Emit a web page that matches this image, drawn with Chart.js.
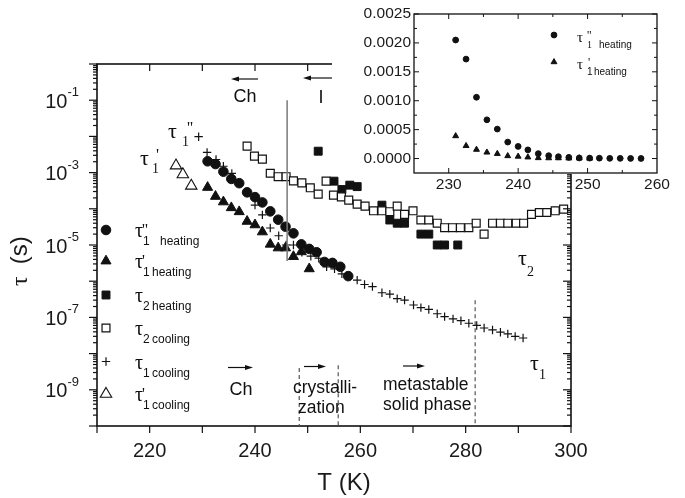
<!DOCTYPE html>
<html>
<head>
<meta charset="utf-8">
<script src="https://cdn.jsdelivr.net/npm/chart.js@4.4.1/dist/chart.umd.min.js"></script>
<style>
  html, body { margin: 0; padding: 0; background: #fff; }
  #wrap { position: relative; width: 685px; height: 498px; }
  #main { position: absolute; left: 0; top: 0; }
  #inset { position: absolute; left: 332px; top: 0; }
</style>
</head>
<body>
<div id="wrap">
  <canvas id="main" width="685" height="498"></canvas>
  <canvas id="inset" width="353" height="210"></canvas>
</div>
<script>
// relaxation times tau (s) against temperature T (K)

// tau1'' heating (filled circles)
const t1ppHeatT = [231.0, 232.5, 234.0, 235.5, 237.0, 238.5, 240.0, 241.4, 242.9, 244.4, 245.8, 247.3, 248.8, 250.3, 251.7, 253.2, 254.7, 256.2, 257.7];
const t1ppHeat  = [2.05e-3, 1.72e-3, 1.06e-3, 6.7e-4, 5.1e-4, 2.85e-4, 2.1e-4, 1.5e-4, 8.5e-5, 5.0e-5, 3.2e-5, 2.1e-5, 1.04e-5, 7.8e-6, 6.3e-6, 3.4e-6, 3.2e-6, 2.5e-6, 1.38e-6];

// tau1' heating (filled triangles)
const t1pHeatT = [231.0, 232.5, 234.0, 235.5, 237.0, 238.5, 240.0, 241.4, 242.9, 244.4, 245.8, 247.3, 248.8, 250.3];
const t1pHeat  = [3.9e-4, 2.2e-4, 1.55e-4, 1.07e-4, 8.3e-5, 4.5e-5, 3.6e-5, 2.3e-5, 1.05e-5, 8.3e-6, 8.3e-6, 4.8e-6, 6.5e-6, 2.2e-6];

// tau2 heating (filled squares)
const t2HeatT = [252.0, 255.0, 256.5, 258.0, 259.4, 264.1, 265.6, 267.0, 268.4, 271.5, 273.0, 274.6, 276.0, 278.5];
const t2Heat  = [3.9e-3, 5.8e-4, 3.4e-4, 4.5e-4, 4.1e-4, 1.26e-4, 4.9e-5, 4.0e-5, 4.0e-5, 2.0e-5, 2.0e-5, 1.0e-5, 1.0e-5, 1.0e-5];

// tau2 cooling (open squares)
const t2CoolT = [238.5, 239.9, 241.4, 242.9, 244.4, 245.9, 247.3, 248.9, 250.5, 252.0, 253.5, 254.9, 256.4, 257.8, 259.4, 260.9, 262.5, 264.1, 265.6, 267.0,
                 268.4, 270.0, 271.5, 273.0, 274.6, 276.0, 277.5, 279.0, 280.6, 282.0, 283.5, 285.1, 286.6, 288.0, 289.6, 291.0, 292.5, 294.0, 295.4, 297.0, 298.6];
const t2Cool  = [5.4e-3, 2.86e-3, 2.36e-3, 9.6e-4, 7.7e-4, 7.7e-4, 5.9e-4, 5.2e-4, 3.8e-4, 2.55e-4, 5.8e-4, 2.39e-4, 2.14e-4, 1.74e-4, 1.35e-4, 1.19e-4, 8.8e-5, 8.8e-5, 8.3e-5, 1.19e-4,
                 7.0e-5, 8.8e-5, 4.9e-5, 4.9e-5, 4.0e-5, 3.0e-5, 3.0e-5, 3.0e-5, 3.0e-5, 4.0e-5, 2.0e-5, 4.0e-5, 4.0e-5, 4.0e-5, 4.0e-5, 4.0e-5, 7.0e-5, 7.9e-5, 7.9e-5, 8.8e-5, 9.8e-5];

// tau1 cooling (crosses)
const t1CoolT = [229.3, 230.9, 232.6, 234.0, 235.6, 240.0, 241.4, 242.9, 244.5, 245.9, 247.3, 248.9, 250.6, 252.1, 253.6, 255.1, 256.5, 259.4, 260.8, 262.3,
                 264.1, 265.6, 267.0, 268.4, 270.1, 271.5, 273.0, 274.6, 276.0, 277.6, 279.1, 280.6, 282.1, 283.5, 285.1, 286.6, 288.0, 289.4, 290.9];
const t1Cool  = [9.8e-3, 3.6e-3, 2.3e-3, 1.5e-3, 9.5e-4, 1.26e-4, 6.8e-5, 2.95e-5, 1.8e-5, 1.0e-5, 1.0e-5, 6.3e-6, 4.9e-6, 4.3e-6, 2.5e-6, 2.2e-6, 1.6e-6, 1.07e-6, 8.1e-7, 7.1e-7,
                 4.8e-7, 4.4e-7, 3.3e-7, 3.0e-7, 2.2e-7, 1.86e-7, 1.66e-7, 1.26e-7, 1.05e-7, 9.1e-8, 8.1e-8, 6.9e-8, 6.0e-8, 5.1e-8, 4.5e-8, 3.9e-8, 3.5e-8, 3.0e-8, 2.7e-8];

// tau1' cooling (open triangles)
const t1pCoolT = [225.0, 226.3, 227.9];
const t1pCool  = [1.56e-3, 8.9e-4, 4.3e-4];

// axis labels
const xTickLabels = [220, 240, 260, 280, 300];
const yTickExps = [-1, -3, -5, -7, -9];
const insetXTickLabels = [230, 240, 250, 260];
const insetYTickLabels = ['0.0000', '0.0005', '0.0010', '0.0015', '0.0020', '0.0025'];

const INK = '#111';
const SANS = '"Liberation Sans", Arial, sans-serif';
const SERIF = '"Liberation Serif", "Times New Roman", serif';

function pts(xs, ys) {
  return xs.map((x, i) => ({ x: x, y: ys[i] }));
}

// marker looks, shared by datasets and legend
const styles = {
  circ:  { pointStyle: 'circle',   radius: 4.8, fill: INK,    width: 1 },
  tri:   { pointStyle: 'triangle', radius: 5.8, fill: INK,    width: 1 },
  sq:    { pointStyle: 'rect',     radius: 5.6, fill: INK,    width: 1 },
  osq:   { pointStyle: 'rect',     radius: 5.6, fill: '#fff', width: 1.2 },
  cross: { pointStyle: 'cross',    radius: 4.2, fill: INK,    width: 1.2 },
  otri:  { pointStyle: 'triangle', radius: 6.6, fill: '#fff', width: 1.1 }
};

function ds(xs, ys, st, r) {
  return {
    data: pts(xs, ys),
    pointStyle: st.pointStyle,
    pointRadius: r || st.radius,
    pointBackgroundColor: st.fill,
    pointBorderColor: INK,
    pointBorderWidth: st.width,
    showLine: false
  };
}

// draws the same shapes chart.js uses for its points
function marker(ctx, st, x, y, r) {
  r = r || st.radius;
  ctx.save();
  ctx.fillStyle = st.fill;
  ctx.strokeStyle = INK;
  ctx.lineWidth = st.width;
  ctx.beginPath();
  if (st.pointStyle === 'circle') {
    ctx.arc(x, y, r, 0, Math.PI * 2);
  } else if (st.pointStyle === 'triangle') {
    let a = 0;
    ctx.moveTo(x + Math.sin(a) * r, y - Math.cos(a) * r);
    a += Math.PI * 2 / 3;
    ctx.lineTo(x + Math.sin(a) * r, y - Math.cos(a) * r);
    a += Math.PI * 2 / 3;
    ctx.lineTo(x + Math.sin(a) * r, y - Math.cos(a) * r);
    ctx.closePath();
  } else if (st.pointStyle === 'rect') {
    const s = r * Math.SQRT1_2;
    ctx.rect(x - s, y - s, 2 * s, 2 * s);
  } else if (st.pointStyle === 'cross') {
    ctx.moveTo(x, y - r); ctx.lineTo(x, y + r);
    ctx.moveTo(x - r, y); ctx.lineTo(x + r, y);
  }
  if (st.pointStyle !== 'cross') ctx.fill();
  ctx.stroke();
  ctx.restore();
}

function line(ctx, x1, y1, x2, y2) {
  ctx.beginPath();
  ctx.moveTo(x1, y1);
  ctx.lineTo(x2, y2);
  ctx.stroke();
}

function arrow(ctx, x1, x2, y) {
  // shaft from x1 to x2, head at x2
  const dir = x2 > x1 ? 1 : -1;
  ctx.save();
  ctx.strokeStyle = INK;
  ctx.fillStyle = INK;
  ctx.lineWidth = 1.2;
  line(ctx, x1, y, x2 - dir * 6, y);
  ctx.beginPath();
  ctx.moveTo(x2, y);
  ctx.lineTo(x2 - dir * 8, y - 2.6);
  ctx.lineTo(x2 - dir * 8, y + 2.6);
  ctx.closePath();
  ctx.fill();
  ctx.restore();
}

// tau with subscript / primes / trailing word
function tauLabel(ctx, o) {
  ctx.save();
  ctx.fillStyle = INK;
  ctx.textAlign = 'left';
  ctx.textBaseline = 'alphabetic';
  ctx.font = o.size + 'px ' + SERIF;
  ctx.fillText('\u03c4', o.x, o.y);
  if (o.primes) {
    ctx.font = o.pSize + 'px ' + SERIF;
    ctx.fillText(o.primes, o.px, o.py);
  }
  ctx.font = o.sSize + 'px ' + (o.subFont || SANS);
  ctx.fillText(o.sub, o.sx, o.sy);
  if (o.tail) {
    ctx.font = o.sSize + 'px ' + SANS;
    ctx.fillText(o.tail, o.tx, o.sy);
  }
  ctx.restore();
}

const mainDecor = {
  id: 'mainDecor',
  afterDraw(chart) {
    const ctx = chart.ctx;
    const xs = chart.scales.x, ys = chart.scales.y;
    const a = chart.chartArea;
    ctx.save();
    ctx.strokeStyle = INK;
    ctx.fillStyle = INK;

    // frame
    ctx.lineWidth = 1.6;
    ctx.strokeRect(a.left, a.top, a.right - a.left, a.bottom - a.top);

    // log ticks on left (outside) and right (inside)
    ctx.lineWidth = 1.2;
    for (let e = -10; e <= 0; e++) {
      const py = ys.getPixelForValue(Math.pow(10, e));
      line(ctx, a.left - 8, py, a.left, py);
      line(ctx, a.right, py, a.right - 8, py);
      if (e < 0) {
        for (let m = 2; m <= 9; m++) {
          const pm = ys.getPixelForValue(m * Math.pow(10, e));
          line(ctx, a.left - 4, pm, a.left, pm);
          line(ctx, a.right, pm, a.right - 4, pm);
        }
      }
    }
    // T ticks, bottom outside, top inside
    for (let t = 210; t <= 300; t += 10) {
      const px = xs.getPixelForValue(t);
      line(ctx, px, a.bottom, px, a.bottom + 7);
      line(ctx, px, a.top, px, a.top + 7);
    }

    // tick labels
    ctx.fillStyle = '#1a1a1a';
    ctx.textBaseline = 'middle';
    ctx.textAlign = 'center';
    ctx.font = '20px ' + SANS;
    xTickLabels.forEach(t => {
      ctx.fillText(String(t), xs.getPixelForValue(t), a.bottom + 25);
    });
    ctx.textAlign = 'left';
    ctx.textBaseline = 'alphabetic';
    yTickExps.forEach(e => {
      const py = ys.getPixelForValue(Math.pow(10, e));
      const ex = String(e);
      ctx.font = '13px ' + SANS;
      const we = ctx.measureText(ex).width;
      ctx.font = '20px ' + SANS;
      const wb = ctx.measureText('10').width;
      const x0 = a.left - 18 - we - wb;
      ctx.fillText('10', x0, py + 7.5);
      ctx.font = '13px ' + SANS;
      ctx.fillText(ex, x0 + wb, py - 4);
    });

    // axis titles
    ctx.font = '24px ' + SANS;
    ctx.textAlign = 'center';
    ctx.textBaseline = 'middle';
    ctx.fillText('T (K)', 344, 483);
    ctx.save();
    ctx.translate(27, 286);
    ctx.rotate(-Math.PI / 2);
    ctx.textAlign = 'left';
    ctx.textBaseline = 'alphabetic';
    ctx.font = '24px ' + SERIF;
    ctx.fillText('\u03c4', 0, 0);
    const wt = ctx.measureText('\u03c4').width;
    ctx.font = '24px ' + SANS;
    ctx.fillText('(s)', wt + 12, 0);
    ctx.restore();

    // phase boundary guides
    ctx.strokeStyle = '#7a7a7a';
    ctx.lineWidth = 1.5;
    const xv = xs.getPixelForValue(246.1);
    line(ctx, xv, ys.getPixelForValue(1e-1), xv, ys.getPixelForValue(3.6e-6));

    ctx.strokeStyle = '#555';
    ctx.lineWidth = 1.2;
    ctx.setLineDash([4, 3]);
    [[248.4, 4.0e-9], [255.8, 4.8e-9], [281.8, 3.0e-7]].forEach(d => {
      const px = xs.getPixelForValue(d[0]);
      line(ctx, px, ys.getPixelForValue(d[1]), px, a.bottom);
    });
    ctx.setLineDash([]);

    // phase arrows and names
    arrow(ctx, 258, 231, 79);
    arrow(ctx, 340, 303, 78);
    arrow(ctx, 228, 253, 367.5);
    arrow(ctx, 304, 326, 366.5);
    arrow(ctx, 403, 425, 366);

    ctx.fillStyle = INK;
    ctx.font = '18px ' + SANS;
    ctx.textBaseline = 'middle';
    ctx.textAlign = 'center';
    ctx.fillText('Ch', 245, 97);
    ctx.fillText('I', 321, 98);
    ctx.fillText('Ch', 241, 390);
    ctx.font = '17.5px ' + SANS;
    ctx.textAlign = 'left';
    ctx.fillText('crystalli-', 293, 388);
    ctx.fillText('zation', 298, 408);
    ctx.fillText('metastable', 383, 385);
    ctx.fillText('solid phase', 383, 405);

    // branch names beside the data
    tauLabel(ctx, { x: 168, y: 138, size: 22, sub: '1', sx: 182, sy: 146, sSize: 14, subFont: SERIF, primes: "''", px: 187, py: 133, pSize: 17 });
    tauLabel(ctx, { x: 140, y: 165, size: 22, sub: '1', sx: 152, sy: 173, sSize: 14, subFont: SERIF, primes: "'", px: 156, py: 160, pSize: 17 });
    tauLabel(ctx, { x: 518, y: 265, size: 22, sub: '2', sx: 527, sy: 276, sSize: 14, subFont: SERIF });
    tauLabel(ctx, { x: 530, y: 370, size: 22, sub: '1', sx: 539, sy: 379, sSize: 14, subFont: SERIF });

    // legend
    const items = [
      { st: styles.circ,  y: 230,   sub: '1', primes: "''", tail: 'heating', tx: 160 },
      { st: styles.tri,   y: 261,   sub: '1', primes: "'",  tail: 'heating', tx: 152 },
      { st: styles.sq,    y: 295,   sub: '2', primes: '',   tail: 'heating', tx: 152 },
      { st: styles.osq,   y: 328,   sub: '2', primes: '',   tail: 'cooling', tx: 152 },
      { st: styles.cross, y: 361.5, sub: '1', primes: '',   tail: 'cooling', tx: 152 },
      { st: styles.otri,  y: 394,   sub: '1', primes: "'",  tail: 'cooling', tx: 152 }
    ];
    items.forEach(it => {
      marker(ctx, it.st, 106, it.y);
      tauLabel(ctx, { x: 135, y: it.y + 7, size: 20, sub: it.sub, sx: 143, sy: it.y + 15, sSize: 12,
        primes: it.primes, px: 142, py: it.y + 5, pSize: 16, tail: it.tail, tx: it.tx });
    });

    ctx.restore();
  }
};

const insetDecor = {
  id: 'insetDecor',
  beforeDraw(chart) {
    // blank panel so the main frame does not show through
    const ctx = chart.ctx;
    ctx.save();
    ctx.fillStyle = '#fff';
    ctx.fillRect(0, 0, chart.width, chart.chartArea.bottom + 1);
    ctx.restore();
  },
  afterDraw(chart) {
    const ctx = chart.ctx;
    const xs = chart.scales.x, ys = chart.scales.y;
    const a = chart.chartArea;
    ctx.save();
    ctx.strokeStyle = INK;
    ctx.lineWidth = 1.3;
    ctx.strokeRect(a.left, a.top, a.right - a.left, a.bottom - a.top);

    ctx.lineWidth = 1;
    for (let k = 0; k <= 10; k++) {
      const py = ys.getPixelForValue(k * 0.00025);
      const len = k % 2 === 0 ? 5 : 3;
      line(ctx, a.left, py, a.left + len, py);
      line(ctx, a.right, py, a.right - len, py);
    }
    for (let t = 230; t <= 255; t += 5) {
      const px = xs.getPixelForValue(t);
      const len = t % 10 === 0 ? 5 : 3;
      line(ctx, px, a.bottom, px, a.bottom - len);
      line(ctx, px, a.top, px, a.top + len);
    }

    ctx.fillStyle = '#1a1a1a';
    ctx.font = '15.5px ' + SANS;
    ctx.textBaseline = 'middle';
    ctx.textAlign = 'right';
    insetYTickLabels.forEach(s => {
      ctx.fillText(s, a.left - 3, ys.getPixelForValue(parseFloat(s)));
    });
    ctx.textAlign = 'center';
    insetXTickLabels.forEach(t => {
      ctx.fillText(String(t), xs.getPixelForValue(t), a.bottom + 12);
    });

    // legend
    const lx = 222;
    marker(ctx, styles.circ, lx, 35, 2.9);
    marker(ctx, styles.tri, lx, 62, 3.4);
    tauLabel(ctx, { x: 245, y: 42, size: 15, sub: '1', sx: 255, sy: 48, sSize: 10, subFont: SERIF,
      primes: "''", px: 255, py: 39, pSize: 12, tail: 'heating', tx: 267 });
    tauLabel(ctx, { x: 245, y: 69, size: 15, sub: '1', sx: 255, sy: 75, sSize: 10,
      primes: "'", px: 256, py: 66, pSize: 12, tail: 'heating', tx: 262 });
    ctx.restore();
  }
};

new Chart(document.getElementById('main'), {
  type: 'scatter',
  data: {
    datasets: [
      ds(t2CoolT, t2Cool, styles.osq),
      ds(t2HeatT, t2Heat, styles.sq),
      ds(t1pCoolT, t1pCool, styles.otri),
      ds(t1CoolT, t1Cool, styles.cross),
      ds(t1pHeatT, t1pHeat, styles.tri),
      ds(t1ppHeatT, t1ppHeat, styles.circ)
    ]
  },
  options: {
    responsive: false,
    animation: false,
    events: [],
    layout: { padding: { left: 97, top: 64, right: 114, bottom: 72 } },
    scales: {
      x: { type: 'linear', min: 210, max: 300, display: false },
      y: { type: 'logarithmic', min: 1e-10, max: 1, display: false }
    },
    plugins: { legend: { display: false }, tooltip: { enabled: false } }
  },
  plugins: [mainDecor]
});

new Chart(document.getElementById('inset'), {
  type: 'scatter',
  data: {
    datasets: [
      ds(t1pHeatT, t1pHeat, styles.tri, 3.4),
      ds(t1ppHeatT, t1ppHeat, styles.circ, 2.9)
    ]
  },
  options: {
    responsive: false,
    animation: false,
    events: [],
    layout: { padding: { left: 82, top: 14, right: 28, bottom: 37 } },
    scales: {
      x: { type: 'linear', min: 225, max: 260, display: false },
      y: { type: 'linear', min: -0.00025, max: 0.0025, display: false }
    },
    plugins: { legend: { display: false }, tooltip: { enabled: false } }
  },
  plugins: [insetDecor]
});
</script>
</body>
</html>
